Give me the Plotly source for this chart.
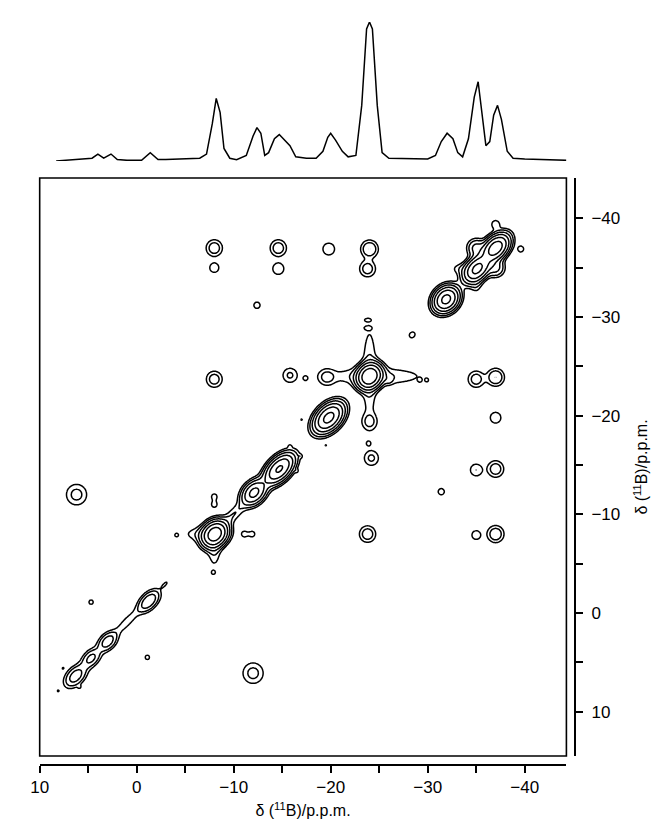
import numpy as np
import plotly.graph_objects as go

# ---------------- 1D projection ----------------
proj_ppm = [8.3, 7.5, 6.5, 5.5, 4.6, 4.0, 3.4, 2.65, 2.0, 1.0, -0.5, -1.4, -2.2, -3.0, -5.0, -6.5,
            -7.2, -7.8, -8.2, -8.6, -9.0, -9.6, -10.3, -11.3, -12.0, -12.4, -12.8, -13.2, -13.6,
            -14.2, -14.7, -15.2, -15.8, -16.4, -17.5, -18.5, -19.2, -19.7, -20.0, -20.5, -21.2,
            -21.8, -22.6, -23.2, -23.7, -24.0, -24.3, -24.8, -25.3, -26.0, -28.0, -30.0, -30.8,
            -31.4, -32.0, -32.6, -33.1, -33.6, -34.2, -34.8, -35.2, -35.6, -36.0, -36.4, -36.8,
            -37.2, -37.6, -38.2, -38.8, -40.0, -42.0, -44.3]
proj_int = [0.0, 0.5, 1.0, 1.5, 2.0, 5.0, 2.0, 5.0, 1.0, 0.5, 0.5, 6.0, 1.0, 1.0, 1.5, 2.0,
            5.0, 27.0, 45.0, 35.0, 9.0, 2.0, 1.0, 4.0, 18.0, 24.0, 20.0, 4.0, 6.0,
            16.0, 19.0, 15.0, 11.0, 3.0, 2.0, 2.0, 7.0, 17.0, 20.0, 15.0, 7.0,
            3.0, 4.0, 40.0, 95.0, 100.0, 95.0, 40.0, 6.0, 2.0, 1.5, 1.5, 4.0,
            14.0, 20.0, 16.0, 6.0, 3.0, 16.0, 46.0, 57.0, 32.0, 11.0, 14.0, 33.0,
            40.0, 30.0, 7.0, 2.0, 1.5, 1.0, 0.5]

# ---------------- 2D peaks (centre x, centre y in ppm, amplitude, widths, tilt) ----------------
pk_x = [-37.0, -35.1, -31.9, -24.0, -19.8, -14.7, -12.1, -8.05, -10.0, -1.25, 1.0, 3.0, 4.7, 6.3, -2.9, -28.4,
        -8.0, -14.6, -19.8, -24.0, -8.0, -14.6, -23.8, -12.4, -37.0, -35.0, -35.0, -33.4, -39.6, -37.0,
        -8.0, -15.8, -17.4, -19.6, -26.0, -29.2, -29.9, -35.0, -37.0, -24.0, -37.0, -17.0, -19.5, -15.8,
        -23.9, -24.2, -35.0, -37.0, -31.4, -23.8, -35.0, -37.0, -11.1, -11.9, -8.0, -8.0, 6.2, -12.0,
        4.7, -1.1, 8.1, 7.6, 5.9, -4.1, -7.9, -23.8, -23.8, -16.5, -16.9,
        -24.6, -24.0, -7.0, -8.0]
pk_y = [-37.0, -34.9, -31.8, -24.0, -19.8, -14.6, -12.2, -8.0, -10.0, -1.2, 0.9, 2.9, 4.6, 6.4, -2.9, -28.2,
        -37.0, -37.0, -36.9, -36.9, -35.0, -34.9, -34.9, -31.2, -35.0, -37.0, -33.4, -34.9, -36.9, -39.4,
        -23.7, -24.1, -23.8, -23.9, -23.6, -23.6, -23.6, -23.7, -23.9, -19.4, -19.8, -19.6, -17.0, -16.9,
        -17.2, -15.7, -14.5, -14.6, -12.3, -8.0, -7.9, -8.0, -8.0, -8.0, -11.0, -11.8, -12.0, 6.1,
        -1.1, 4.5, 7.9, 5.6, 7.5, -7.9, -4.1, -29.7, -28.9, -14.4, -15.9,
        -24.0, -24.2, -8.0, -6.6]
pk_amp = [50, 40, 40, 60, 40, 35, 20, 50, 2.0, 7, 1.6, 6, 5, 6, 1.3, 1.5,
          3.2, 3.2, 1.8, 4.0, 1.7, 1.9, 3.0, 1.5, 5.0, 5.0, 1.4, 1.4, 1.6, 1.8,
          3.0, 2.2, 1.2, 2.3, 1.4, 1.1, 1.1, 3.0, 4.0, 2.2, 1.8, 1.1, 1.1, 1.1,
          1.2, 2.3, 2.0, 3.2, 1.5, 3.2, 1.6, 3.5, 1.5, 1.5, 1.5, 1.5, 2.6, 2.6,
          1.3, 1.3, 1.1, 1.1, 1.1, 1.2, 1.2, 1.2, 1.2, 1.1, 1.1,
          2.2, 2.2, 2.0, 2.0]
pk_su = [0.85, 0.85, 0.75, 0.7, 0.95, 1.0, 0.8, 0.75, 1.2, 0.8, 1.3, 0.7, 0.7, 0.8, 0.4, 0.35,
         0.55, 0.55, 0.55, 0.55, 0.45, 0.5, 0.55, 0.35, 0.55, 0.55, 0.4, 0.7, 0.3, 0.35,
         0.55, 0.55, 0.25, 0.55, 0.3, 0.15, 0.15, 0.55, 0.55, 0.55, 0.5, 0.15, 0.15, 0.15,
         0.25, 0.55, 0.5, 0.55, 0.35, 0.55, 0.45, 0.55, 0.3, 0.3, 0.3, 0.3, 0.75, 0.75,
         0.3, 0.3, 0.15, 0.15, 0.15, 0.2, 0.2, 0.3, 0.3, 0.15, 0.15,
         3.4, 3.2, 1.4, 1.3]
pk_sv = [0.55, 0.55, 0.6, 0.6, 0.6, 0.55, 0.55, 0.6, 0.4, 0.45, 0.35, 0.45, 0.45, 0.5, 0.15, 0.3,
         0.55, 0.55, 0.55, 0.55, 0.45, 0.5, 0.55, 0.35, 0.55, 0.55, 0.7, 0.4, 0.3, 0.35,
         0.55, 0.55, 0.25, 0.55, 0.3, 0.15, 0.15, 0.55, 0.55, 0.55, 0.5, 0.15, 0.15, 0.15,
         0.25, 0.55, 0.5, 0.55, 0.35, 0.55, 0.45, 0.55, 0.3, 0.3, 0.3, 0.3, 0.75, 0.75,
         0.3, 0.3, 0.15, 0.15, 0.15, 0.2, 0.2, 0.15, 0.15, 0.15, 0.15,
         0.6, 0.5, 0.5, 0.45]
pk_tilt = [45] * 16 + [0] * 53 + [0, 90, 0, 90]

x_tickvals = [10, 0, -10, -20, -30, -40]
x_ticktext = ["10", "0", "−10", "−20", "−30", "−40"]
x_minor = [5, -5, -15, -25, -35]
y_tickvals = [-40, -30, -20, -10, 0, 10]
y_ticktext = ["−40", "−30", "−20", "−10", "0", "10"]
y_minor = [-35, -25, -15, -5, 5]

X_RANGE = [10, -44.3]
Y_RANGE = [14.5, -44.1]

# ---------------- build intensity grid from the peak table ----------------
gx = np.arange(X_RANGE[0], X_RANGE[1] - 0.05, -0.1)
gy = np.arange(Y_RANGE[0], Y_RANGE[1] - 0.05, -0.1)
XX, YY = np.meshgrid(gx, gy)
Z = np.zeros_like(XX)
for cx, cy, a, su, sv, t in zip(pk_x, pk_y, pk_amp, pk_su, pk_sv, pk_tilt):
    th = np.deg2rad(t)
    dx = XX - cx
    dy = YY - cy
    u = dx * np.cos(th) + dy * np.sin(th)
    v = -dx * np.sin(th) + dy * np.cos(th)
    Z += a * np.exp(-(u ** 2 / (2 * su ** 2) + v ** 2 / (2 * sv ** 2)))
ZL = np.log2(np.maximum(Z, 0.25)).astype(np.float32)

W, H = 660, 823
fig = go.Figure()

fig.add_trace(go.Contour(
    x=gx, y=gy, z=ZL,
    xaxis="x", yaxis="y",
    showscale=False,
    contours=dict(start=0, end=5, size=1, coloring="lines"),
    colorscale=[[0, "black"], [1, "black"]],
    line=dict(width=1.5, color="black", smoothing=1),
    hoverinfo="skip",
))

fig.add_trace(go.Scatter(
    x=proj_ppm, y=proj_int, xaxis="x2", yaxis="y2",
    mode="lines", line=dict(color="black", width=1.5),
    hoverinfo="skip", showlegend=False,
))

font = "Liberation Sans, Arial, sans-serif"
title_text = "δ (<sup>11</sup>B)/p.p.m."
tick_style = dict(ticks="outside", ticklen=7, tickwidth=1.5, tickcolor="black")

fig.update_layout(
    width=W, height=H, autosize=False,
    margin=dict(l=0, r=0, t=0, b=0),
    paper_bgcolor="white", plot_bgcolor="white",
    showlegend=False,
    font=dict(family=font, color="black", size=16),
    xaxis=dict(
        domain=[23 / W, 557 / W], range=X_RANGE,
        anchor="free", position=1 - 757 / H,
        showgrid=False, zeroline=False,
        showline=True, linecolor="black", linewidth=1.5,
        tickmode="array", tickvals=x_tickvals, ticktext=x_ticktext,
        minor=dict(tickmode="array", tickvals=x_minor, showgrid=False, **tick_style),
        tickfont=dict(size=17),
        title=dict(text=title_text, font=dict(size=16), standoff=8),
        **tick_style,
    ),
    yaxis=dict(
        domain=[1 - 748 / H, 1 - 170 / H], range=Y_RANGE,
        anchor="free", position=566 / W, side="right",
        showgrid=False, zeroline=False,
        showline=True, linecolor="black", linewidth=1.5,
        tickmode="array", tickvals=y_tickvals, ticktext=y_ticktext,
        minor=dict(tickmode="array", tickvals=y_minor, showgrid=False, **tick_style),
        tickfont=dict(size=17), ticklabelstandoff=5,
        title=dict(text=title_text, font=dict(size=16), standoff=16),
        **tick_style,
    ),
    xaxis2=dict(domain=[23 / W, 557 / W], range=X_RANGE, anchor="y2", visible=False),
    yaxis2=dict(domain=[1 - 153 / H, 1 - 14 / H], range=[0, 100], anchor="x2", visible=False),
    shapes=[dict(type="rect", xref="x domain", yref="y domain", x0=0, x1=1, y0=0, y1=1,
                 line=dict(color="black", width=1.6))],
)

fig.write_html("out.html")
